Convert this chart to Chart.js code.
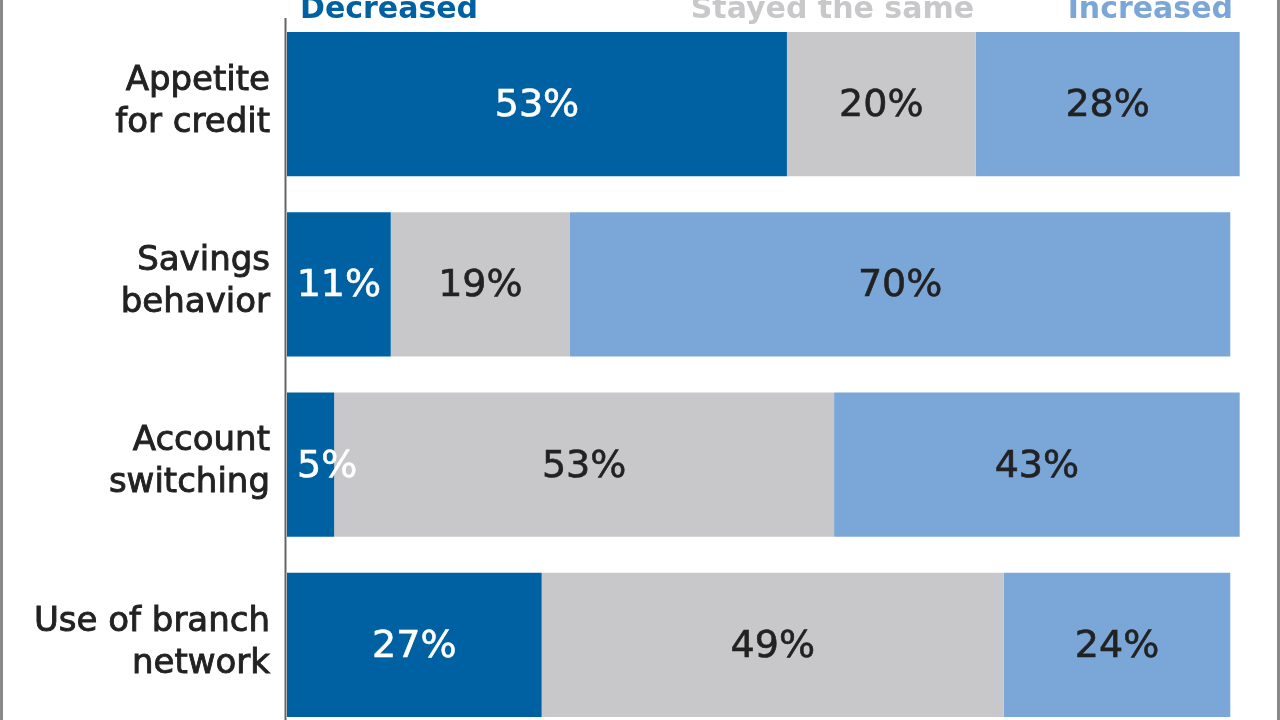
<!DOCTYPE html>
<html>
<head>
<meta charset="utf-8">
<script src="https://cdn.jsdelivr.net/npm/chart.js@4"></script>
<style>
  html, body { margin: 0; padding: 0; background: #fff; overflow: hidden; }
  #wrap { width: 1280px; height: 720px; overflow: hidden; }
</style>
</head>
<body>
<div id="wrap"><canvas id="chart" width="1280" height="740"></canvas></div>
<script>
// categorias (duas linhas cada)
const categorias = [
    ['Appetite', 'for credit'],
    ['Savings', 'behavior'],
    ['Account', 'switching'],
    ['Use of branch', 'network']
];
const diminuiu = [53, 11, 5, 27];
const igual = [20, 19, 53, 49];
const aumentou = [28, 70, 43, 24];

const nomesSeries = ['Decreased', 'Stayed the same', 'Increased'];
const cores = ['#0061a2', '#c8c8ca', '#7ba6d8'];
const coresTexto = ['#ffffff', '#222222', '#222222'];

// desenha bordas, eixo, legenda, rotulos das categorias e valores
const desenhoExtra = {
    id: 'desenhoExtra',
    afterDatasetsDraw(chart) {
        const ctx = chart.ctx;
        const area = chart.chartArea;
        const yScale = chart.scales.y;
        ctx.save();

        // bordas cinza nas laterais
        ctx.fillStyle = '#8a8a8a';
        ctx.fillRect(0, 0, 3, 740);
        ctx.fillRect(1277, 0, 3, 740);

        // linha do eixo vertical
        ctx.strokeStyle = '#666';
        ctx.lineWidth = 2;
        ctx.beginPath();
        ctx.moveTo(area.left - 1.5, 18);
        ctx.lineTo(area.left - 1.5, 740);
        ctx.stroke();

        // rotulos das categorias (um pouco mais pesados)
        ctx.font = '34px "DejaVu Sans"';
        ctx.fillStyle = '#222';
        ctx.strokeStyle = '#222';
        ctx.lineWidth = 0.9;
        ctx.textAlign = 'right';
        ctx.textBaseline = 'middle';
        categorias.forEach((linhas, i) => {
            const yc = yScale.getPixelForValue(i);
            ctx.fillText(linhas[0], 270, yc - 23);
            ctx.strokeText(linhas[0], 270, yc - 23);
            ctx.fillText(linhas[1], 270, yc + 19);
            ctx.strokeText(linhas[1], 270, yc + 19);
        });

        // valores dentro das barras
        ctx.font = '38px "DejaVu Sans"';
        ctx.textBaseline = 'middle';
        ctx.lineWidth = 0.6;
        chart.data.datasets.forEach((ds, d) => {
            const meta = chart.getDatasetMeta(d);
            meta.data.forEach((bar, i) => {
                const texto = ds.data[i] + '%';
                const largura = ctx.measureText(texto).width;
                const inicio = Math.min(bar.base, bar.x);
                const fim = Math.max(bar.base, bar.x);
                let x = (inicio + fim) / 2;
                ctx.textAlign = 'center';
                if (fim - inicio < largura + 10) {
                    ctx.textAlign = 'left';
                    x = inicio + 10;
                }
                ctx.fillStyle = coresTexto[d];
                ctx.strokeStyle = coresTexto[d];
                ctx.fillText(texto, x, bar.y + 2);
                ctx.strokeText(texto, x, bar.y + 2);
            });
        });

        // legenda no topo
        ctx.font = 'bold 30px "DejaVu Sans"';
        ctx.textBaseline = 'alphabetic';
        ctx.fillStyle = cores[0];
        ctx.textAlign = 'left';
        ctx.fillText(nomesSeries[0], 300, 18);
        ctx.fillStyle = cores[1];
        ctx.textAlign = 'right';
        ctx.fillText(nomesSeries[1], 974, 18);
        ctx.fillStyle = cores[2];
        ctx.fillText(nomesSeries[2], 1233, 18);

        ctx.restore();
    }
};

new Chart(document.getElementById('chart'), {
    type: 'bar',
    data: {
        labels: categorias,
        datasets: [
            { label: nomesSeries[0], data: diminuiu, backgroundColor: cores[0] },
            { label: nomesSeries[1], data: igual, backgroundColor: cores[1] },
            { label: nomesSeries[2], data: aumentou, backgroundColor: cores[2] }
        ]
    },
    options: {
        indexAxis: 'y',
        responsive: false,
        animation: false,
        layout: { padding: { left: 287, right: 12, top: 14, bottom: 5 } },
        datasets: { bar: { categoryPercentage: 1, barPercentage: 0.8, borderWidth: 0 } },
        scales: {
            x: { stacked: true, min: 0, max: 104, display: false },
            y: { stacked: true, display: false }
        },
        plugins: {
            legend: { display: false },
            tooltip: { enabled: false }
        }
    },
    plugins: [desenhoExtra]
});
</script>
</body>
</html>
